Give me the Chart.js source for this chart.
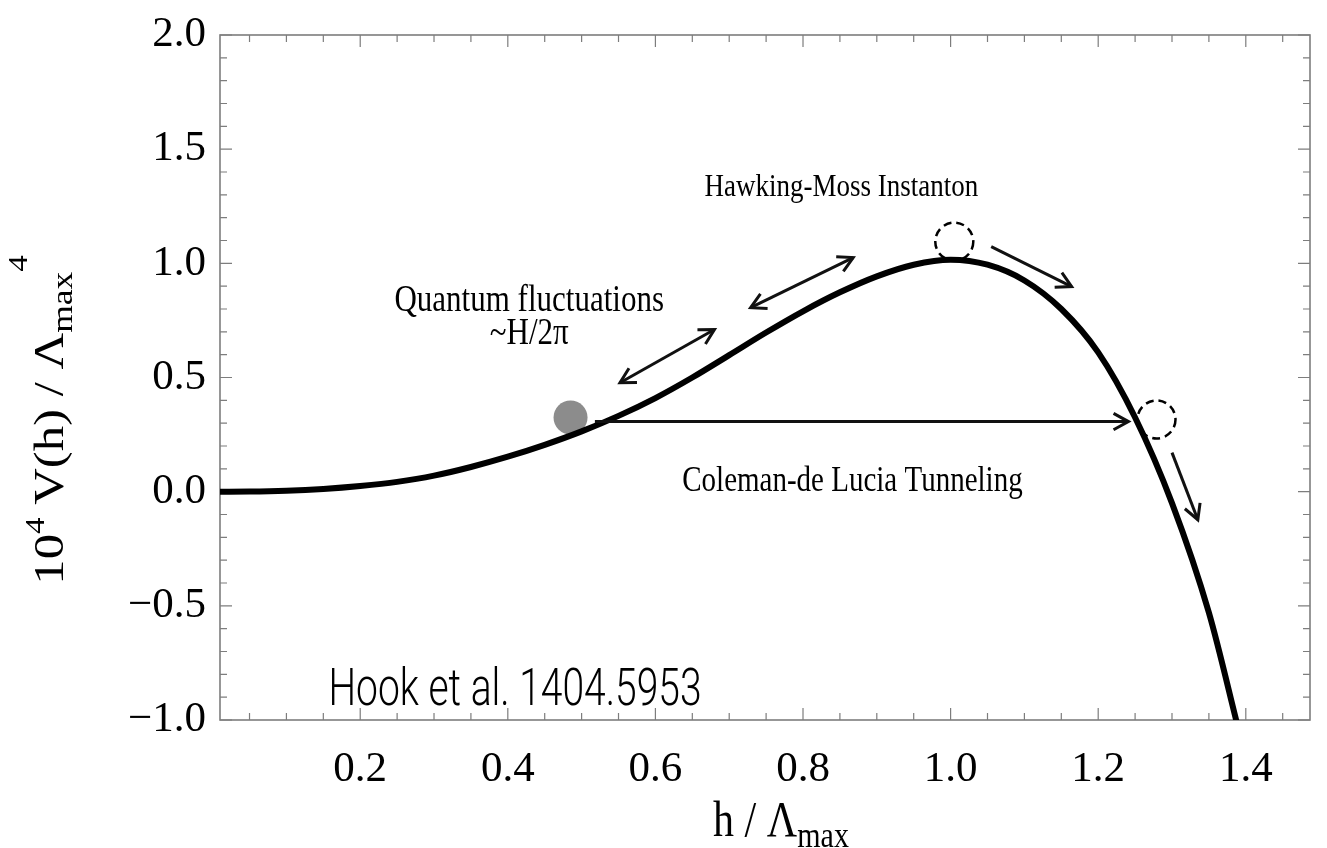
<!DOCTYPE html>
<html>
<head>
<meta charset="utf-8">
<title>Higgs potential</title>
<script src="https://cdn.jsdelivr.net/npm/chart.js@4.4.1/dist/chart.umd.min.js"></script>
<style>
 html, body { margin: 0; padding: 0; background: #fff; }
 #wrap { width: 1327px; height: 848px; }
</style>
</head>
<body>
<div id="wrap"><canvas id="chart" width="1327" height="848"></canvas></div>
<script>
// potential V(h)
const hValues = [0.01, 0.05, 0.10, 0.15, 0.20, 0.25, 0.30, 0.35, 0.40, 0.45, 0.50, 0.55, 0.60, 0.65, 0.70,
 0.75, 0.80, 0.85, 0.90, 0.95, 1.00, 1.05, 1.10, 1.15, 1.20, 1.25, 1.30, 1.35, 1.39]
const vValues = [0, 0.0005, 0.004, 0.012, 0.025, 0.043, 0.070, 0.108, 0.153, 0.205, 0.264, 0.332, 0.410, 0.500, 0.598,
 0.697, 0.790, 0.873, 0.943, 0.994, 1.016, 0.994, 0.925, 0.800, 0.610, 0.325, -0.050, -0.530, -1.040]

const xTicks = [0.2, 0.4, 0.6, 0.8, 1.0, 1.2, 1.4]
const yTicks = [-1.0, -0.5, 0.0, 0.5, 1.0, 1.5, 2.0]

// sketch on top of the plot, in data units (h, V)
const fieldBall = [{ x: 0.485, y: 0.325 }]
const ghostBalls = [[1.005, 1.095], [1.279, 0.316]]
const fluctuationArrows = [[0.552, 0.477, 0.680, 0.710], [0.729, 0.806, 0.868, 1.025]]
const rollArrows = [[1.055, 1.073, 1.164, 0.898], [1.300, 0.171, 1.335, -0.123]]
const tunnelArrow = [0.518, 0.307, 1.241, 0.307]
const notes = [
 { text: 'Hawking-Moss Instanton', h: 0.852, v: 1.332, size: 27 },
 { text: 'Quantum fluctuations', h: 0.429, v: 0.832, size: 31 },
 { text: '~H/2π', h: 0.429, v: 0.688, size: 31 },
 { text: 'Coleman-de Lucia Tunneling', h: 0.867, v: 0.044, size: 29 }
]

const serif = '"Liberation Serif", "Times New Roman", serif'

const curve = hValues.map((h, i) => ({ x: h, y: vValues[i] }))
const seg = a => [{ x: a[0], y: a[1] }, { x: a[2], y: a[3] }]
const arrowSet = (a, head) => ({
 data: seg(a), showLine: true, borderColor: '#111', borderWidth: 3,
 pointRadius: 0, head: head, order: 0
})

const datasets = [
 { data: curve, showLine: true, borderColor: '#000', borderWidth: 6, pointRadius: 0,
  cubicInterpolationMode: 'monotone', order: 1 },
 { data: fieldBall, pointRadius: 17, pointBackgroundColor: '#8c8c8c', pointBorderWidth: 0, order: 2 }
]
fluctuationArrows.forEach(a => datasets.push(arrowSet(a, 'both')))
rollArrows.forEach(a => datasets.push(arrowSet(a, 'end')))
datasets.push(arrowSet(tunnelArrow, 'end'))

function chevron(ctx, x0, y0, x1, y1) {
 const ang = Math.atan2(y1 - y0, x1 - x0)
 const len = 17, spread = 0.5
 ctx.beginPath()
 ctx.moveTo(x1 - len * Math.cos(ang - spread), y1 - len * Math.sin(ang - spread))
 ctx.lineTo(x1, y1)
 ctx.lineTo(x1 - len * Math.cos(ang + spread), y1 - len * Math.sin(ang + spread))
 ctx.stroke()
}

// draws pieces of text in a row, centred on (0,0) of the current transform
function richText(ctx, parts) {
 let total = 0
 parts.forEach(p => {
  ctx.font = p.size + 'px ' + serif
  p.w = ctx.measureText(p.t).width
  total += p.w
 })
 let x = -total / 2
 parts.forEach(p => {
  ctx.font = p.size + 'px ' + serif
  ctx.fillText(p.t, x, p.dy || 0)
  x += p.w
 })
}

const framePlugin = {
 id: 'frame',
 beforeDatasetsDraw(chart) {
  const { ctx, chartArea: a, scales } = chart
  const xs = scales.x, ys = scales.y
  ctx.save()
  ctx.strokeStyle = '#7d7d7d'
  ctx.lineWidth = 1.2
  const tick = (v, big, isX) => {
   const L = big ? 12 : 7
   ctx.beginPath()
   if (isX) {
    const p = xs.getPixelForValue(v)
    ctx.moveTo(p, a.bottom); ctx.lineTo(p, a.bottom - L)
    ctx.moveTo(p, a.top); ctx.lineTo(p, a.top + L)
   } else {
    const p = ys.getPixelForValue(v)
    ctx.moveTo(a.left, p); ctx.lineTo(a.left + L, p)
    ctx.moveTo(a.right, p); ctx.lineTo(a.right - L, p)
   }
   ctx.stroke()
  }
  for (let i = 1; i * 0.05 < xs.max; i++) tick(i * 0.05, i % 4 === 0, true)
  for (let i = -10; i <= 20; i++) tick(i * 0.1, i % 5 === 0, false)
  ctx.lineWidth = 1.6
  ctx.strokeRect(a.left, a.top, a.right - a.left, a.bottom - a.top)
  ctx.restore()
 },
 afterDraw(chart) {
  const { ctx, scales } = chart
  const px = h => scales.x.getPixelForValue(h)
  const py = v => scales.y.getPixelForValue(v)
  ctx.save()

  // arrow heads
  ctx.strokeStyle = '#111'
  ctx.lineWidth = 3
  ctx.lineJoin = 'miter'
  chart.data.datasets.forEach(d => {
   if (!d.head) return
   const [p, q] = d.data
   chevron(ctx, px(p.x), py(p.y), px(q.x), py(q.y))
   if (d.head === 'both') chevron(ctx, px(q.x), py(q.y), px(p.x), py(p.y))
  })

  // dashed ghost positions of the field
  ctx.setLineDash([8, 5])
  ctx.lineWidth = 2.5
  ctx.strokeStyle = '#000'
  ghostBalls.forEach(b => {
   ctx.beginPath()
   ctx.arc(px(b[0]), py(b[1]), 19, 0, Math.PI * 2)
   ctx.stroke()
  })
  ctx.setLineDash([])

  // notes
  ctx.fillStyle = '#000'
  ctx.textAlign = 'center'
  ctx.textBaseline = 'middle'
  notes.forEach(n => {
   ctx.save()
   ctx.translate(px(n.h), py(n.v))
   ctx.scale(1, 1.2)
   ctx.font = n.size + 'px ' + serif
   ctx.fillText(n.text, 0, 0)
   ctx.restore()
  })

  // citation
  ctx.save()
  ctx.translate(px(0.157), py(-0.933))
  ctx.scale(1, 1.35)
  ctx.textAlign = 'left'
  ctx.textBaseline = 'alphabetic'
  ctx.font = '300 39px Roboto, "Liberation Sans", sans-serif'
  ctx.fillText('Hook et al. 1404.5953', 0, 0)
  ctx.restore()

  // axis titles
  ctx.textAlign = 'left'
  ctx.textBaseline = 'alphabetic'
  ctx.save()
  ctx.translate(781, 836)
  ctx.scale(1, 1.2)
  richText(ctx, [
   { t: 'h / Λ', size: 42 },
   { t: 'max', size: 30, dy: 9 }
  ])
  ctx.restore()

  ctx.save()
  ctx.translate(63, 420)
  ctx.rotate(-Math.PI / 2)
  ctx.scale(1.18, 1)
  richText(ctx, [
   { t: '10', size: 43 },
   { t: '4', size: 28, dy: -19 },
   { t: ' V(h) / Λ', size: 43 },
   { t: 'max', size: 30, dy: 9 },
   { t: '4', size: 28, dy: -36 }
  ])
  ctx.restore()

  ctx.restore()
 }
}

new Chart(document.getElementById('chart'), {
 type: 'scatter',
 data: { datasets: datasets },
 plugins: [framePlugin],
 options: {
  responsive: false,
  animation: false,
  events: [],
  layout: { padding: { top: 35, right: 10, left: 0, bottom: 0 } },
  plugins: { legend: { display: false }, tooltip: { enabled: false } },
  scales: {
   x: {
    type: 'linear',
    min: 0.01,
    max: 1.487,
    afterBuildTicks: s => { s.ticks = xTicks.map(v => ({ value: v })) },
    afterFit: s => { s.height = 128 },
    grid: { display: false, drawTicks: false },
    border: { display: false },
    ticks: {
     padding: 28,
     color: '#000',
     font: { family: serif, size: 43, lineHeight: 1 },
     maxRotation: 0,
     callback: v => v.toFixed(1)
    }
   },
   y: {
    type: 'linear',
    min: -1,
    max: 2,
    afterBuildTicks: s => { s.ticks = yTicks.map(v => ({ value: v })) },
    afterFit: s => { s.width = 220; s.paddingTop = 0; s.paddingBottom = 0 },
    grid: { display: false, drawTicks: false },
    border: { display: false },
    ticks: {
     padding: 14,
     color: '#000',
     font: { family: serif, size: 43, lineHeight: 1 },
     callback: v => (v < 0 ? '−' : '') + Math.abs(v).toFixed(1)
    }
   }
  }
 }
})
</script>
</body>
</html>
